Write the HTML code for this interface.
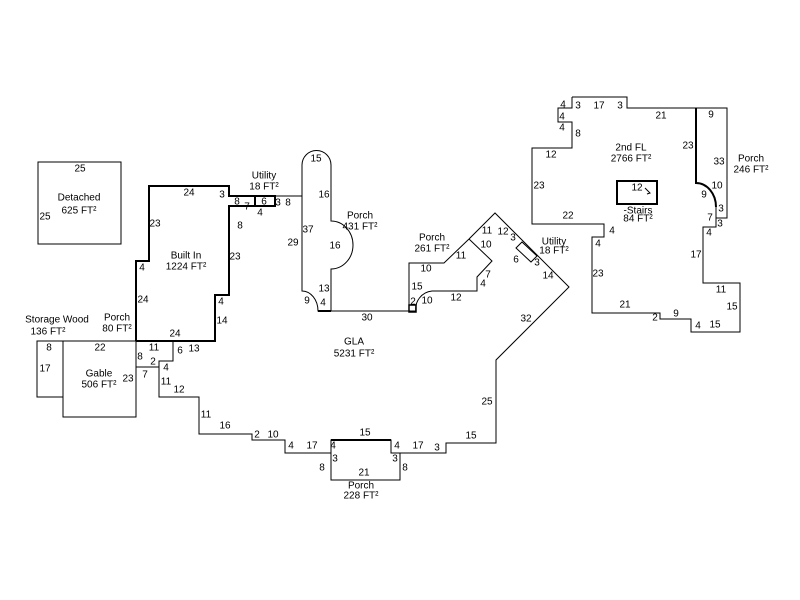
<!DOCTYPE html>
<html><head><meta charset="utf-8"><style>
html,body{margin:0;padding:0;background:#fff;}
svg{display:block;}
text{font-family:"Liberation Sans",sans-serif;font-size:10px;fill:#000;text-anchor:middle;dominant-baseline:central;}
</style></head><body>
<svg width="800" height="600" viewBox="0 0 800 600" xmlns="http://www.w3.org/2000/svg">
<g fill="none" stroke="#000" stroke-width="1">
<rect x="38" y="162" width="83" height="82"/>
<rect x="37" y="341" width="26" height="56"/>
<rect x="63" y="341" width="73" height="76"/>
<path d="M136 367 H159 M159 361 V370"/>
<rect x="255" y="196" width="20" height="10" stroke-width="2"/>
<path d="M275 196 H302"/>
<path d="M136 341 V261 H149 V186 H229 V196 H255 V206 H229 V295 H215 V341 H136" stroke-width="2"/>
<path d="M173 341 V361 H159 V397 H199 V434 H252 V440 H285 V453 H331 V440 H391 V453 H446 V443 H496 V360 L569 287 L495 213 L469 239 M302 196 V291 A16 20 0 0 1 318 311 H331 M331 311 H416"/>
<path d="M331 453 V480 H400 V453"/>
<path d="M331 440 H391" stroke-width="2"/>
<path d="M318 311 H331" stroke-width="2"/>
<path d="M302 165 A14.5 14.5 0 0 1 331 165 V221 A22 24 0 0 1 331 269 V311 M302 165 V196"/>
<path d="M469 239 L444 263 H409 V312 H416 M469 239 L492 261 L477 277 V291 H432 A18 18 0 0 0 416 312"/>
<rect x="409" y="305" width="7" height="7" stroke-width="1.5"/>
<polygon points="516,248 522,242 537,256 531,262"/>
<path d="M572 97 H627 V108 H727 V218 H716 M572 97 V108 H558 V122 H572 V148 H532 V224 H604 V237 H592 V313 H660 V319 H691 V332 H740 V283 H703 V227 H716 V207 A20 24 0 0 0 696 183 V108"/>
<path d="M696 108 V183 A20 24 0 0 1 716 207" stroke-width="2"/>
<rect x="617" y="181" width="40" height="23" stroke-width="2"/>
<path d="M645 188 L650 193 L647 194"/>
</g>
<text x="80" y="169">25</text><text x="45" y="217">25</text><text x="79" y="198">Detached</text><text x="79" y="211">625 FT²</text>
<text x="264" y="176">Utility</text><text x="264" y="187">18 FT²</text>
<text x="189" y="193">24</text><text x="222" y="195">3</text><text x="237" y="202">8</text><text x="247" y="207">7</text><text x="264" y="202">6</text><text x="278" y="203">3</text><text x="288" y="203">8</text><text x="260" y="213">4</text><text x="240" y="226">8</text><text x="155" y="224">23</text><text x="235" y="257">23</text><text x="186" y="256">Built In</text><text x="186" y="267">1224 FT²</text><text x="142" y="268">4</text><text x="143" y="300">24</text><text x="221" y="302">4</text><text x="222" y="321">14</text><text x="175" y="334">24</text>
<text x="117" y="318">Porch</text><text x="117" y="329">80 FT²</text><text x="57" y="320">Storage Wood</text><text x="48" y="332">136 FT²</text>
<text x="49" y="348">8</text><text x="45" y="369">17</text><text x="100" y="348">22</text><text x="99" y="374">Gable</text><text x="99" y="385">506 FT²</text><text x="128" y="379">23</text>
<text x="154" y="348">11</text><text x="140" y="357">8</text><text x="153" y="362">2</text><text x="180" y="351">6</text><text x="194" y="349">13</text><text x="166" y="368">4</text><text x="145" y="375">7</text><text x="166" y="382">11</text><text x="179" y="390">12</text><text x="206" y="415">11</text><text x="225" y="426">16</text><text x="257" y="435">2</text><text x="273" y="435">10</text><text x="291" y="446">4</text><text x="312" y="446">17</text><text x="333" y="446">4</text><text x="365" y="433">15</text><text x="397" y="446">4</text><text x="418" y="446">17</text><text x="437" y="448">3</text><text x="471" y="436">15</text>
<text x="335" y="459">3</text><text x="322" y="468">8</text><text x="364" y="473">21</text><text x="395" y="459">3</text><text x="405" y="468">8</text><text x="361" y="486">Porch</text><text x="361" y="496">228 FT²</text>
<text x="487" y="402">25</text><text x="526" y="319">32</text><text x="354" y="342">GLA</text><text x="354" y="354">5231 FT²</text><text x="367" y="318">30</text>
<text x="316" y="159">15</text><text x="324" y="195">16</text><text x="308" y="230">37</text><text x="293" y="243">29</text><text x="335" y="246">16</text><text x="360" y="216">Porch</text><text x="360" y="227">431 FT²</text><text x="324" y="289">13</text><text x="307" y="301">9</text><text x="323" y="303">4</text>
<text x="432" y="238">Porch</text><text x="432" y="249">261 FT²</text><text x="487" y="231">11</text><text x="503" y="232">12</text><text x="513" y="238">3</text><text x="486" y="245">10</text><text x="461" y="256">11</text><text x="426" y="269">10</text><text x="516" y="260">6</text><text x="537" y="263">3</text><text x="488" y="275">7</text><text x="548" y="276">14</text><text x="417" y="287">15</text><text x="483" y="284">4</text><text x="456" y="298">12</text><text x="413" y="302">2</text><text x="427" y="301">10</text><text x="554" y="242">Utility</text><text x="554" y="251">18 FT²</text>
<text x="563" y="105">4</text><text x="578" y="106">3</text><text x="599" y="106">17</text><text x="620" y="106">3</text><text x="661" y="116">21</text><text x="711" y="115">9</text><text x="562" y="117">4</text><text x="562" y="128">4</text><text x="578" y="134">8</text><text x="551" y="155">12</text><text x="631" y="148">2nd FL</text><text x="631" y="159">2766 FT²</text><text x="688" y="146">23</text><text x="719" y="162">33</text><text x="751" y="159">Porch</text><text x="751" y="170">246 FT²</text><text x="539" y="186">23</text><text x="637" y="188">12</text><text x="717" y="186">10</text><text x="704" y="195">9</text><text x="638" y="211">-Stairs</text><text x="638" y="219">84 FT²</text><text x="568" y="216">22</text><text x="721" y="209">3</text><text x="710" y="218">7</text><text x="720" y="224">3</text><text x="612" y="231">4</text><text x="709" y="233">4</text><text x="598" y="244">4</text><text x="696" y="255">17</text><text x="598" y="274">23</text><text x="721" y="290">11</text><text x="625" y="305">21</text><text x="732" y="307">15</text><text x="655" y="318">2</text><text x="676" y="314">9</text><text x="698" y="326">4</text><text x="715" y="325">15</text>
</svg>
</body></html>
